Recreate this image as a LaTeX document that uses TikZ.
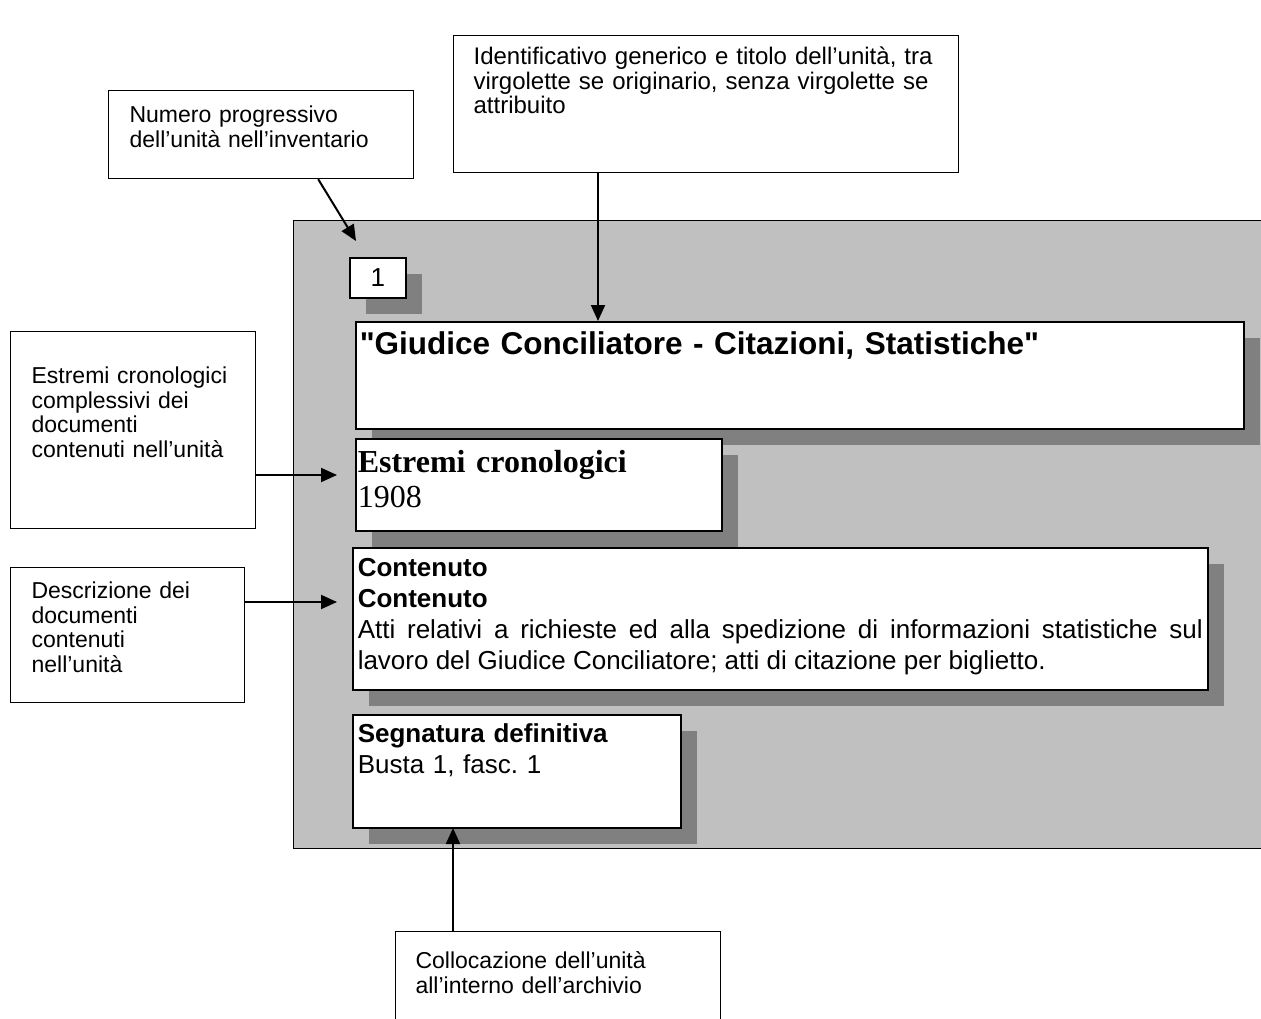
\documentclass[tikz,border=0pt]{standalone}
\usepackage{fontspec}
\setmainfont{Liberation Sans}
\newfontfamily\serifface{Liberation Serif}
\usetikzlibrary{arrows.meta, shadows}
\definecolor{panelgray}{RGB}{192,192,192}
\definecolor{shadegray}{RGB}{128,128,128}
\tikzset{
pointer/.style={line width=2pt, -{Triangle[length=16pt,width=14pt]}}
}

\begin{document}
\frenchspacing
\begin{tikzpicture}[x=1pt,y=-1pt]
		\tikzset{callout/.style = {draw, line width=1.2pt, fill=white, anchor=north west, align=left, inner ysep=0pt, font=\fontsize{23}{24.5}\selectfont}}
		\tikzset{field/.style = {draw, line width=1.5pt, fill=white, anchor=north west, inner ysep=0pt, drop shadow={shadow xshift=16pt, shadow yshift=-16pt, fill=shadegray, opacity=1}, font=\fontsize{26}{31}\selectfont}}

		\path[use as bounding box, clip] (0,0) rectangle (1261,1018);

		\node[draw, line width=1pt, fill=panelgray, anchor=north west, minimum width=990, minimum height=628, inner sep=0pt] (scheda) at (293,220) {};

		\node[field, minimum width=56, minimum height=40, inner sep=0pt] (numbox) at (349,257) {1};
		\node[field, minimum width=888, minimum height=107, text width=880, inner xsep=4, text height=33, text depth=74, align=left, font=\fontsize{31.5}{36}\selectfont\bfseries] (titolo) at (355,321) {\textquotedbl Giudice Conciliatore - Citazioni, Statistiche\textquotedbl};
		\node[field, minimum width=366, minimum height=92, text width=362, inner xsep=2, text height=34, text depth=58, align=left, font=\fontsize{32}{35}\selectfont\serifface] (date) at (355,438) {\textbf{Estremi cronologici}\\1908};
		\node[field, minimum width=855, minimum height=142, text width=845, inner xsep=5, text height=29, text depth=113, align=justify] (contenuto) at (352,547) {\textbf{Contenuto}\\\textbf{Contenuto}\\Atti relativi a richieste ed alla spedizione di informazioni statistiche sul\linebreak lavoro del Giudice Conciliatore; atti di citazione per biglietto.};
		\node[field, minimum width=328, minimum height=113, text width=318, inner xsep=5, text height=28, text depth=85, align=left] (segnatura) at (352,714) {\textbf{Segnatura definitiva}\\Busta 1, fasc. 1};

		\node[callout, minimum width=305, minimum height=88, text width=263, inner xsep=21, text height=32, text depth=56] (numero) at (108,90) {Numero progressivo\\dell'unità nell'inventario};
		\node[callout, minimum width=505, minimum height=137, text width=465, inner xsep=20, text height=29, text depth=108, font=\fontsize{24}{24.5}\selectfont] (ident) at (453,35) {Identificativo generico e titolo dell'unità, tra\\virgolette se originario, senza virgolette se\\attribuito};
		\node[callout, minimum width=245, minimum height=197, text width=203, inner xsep=21, text height=52, text depth=145] (estremi) at (10,331) {Estremi cronologici\\complessivi dei\\documenti\\contenuti nell'unità};
		\node[callout, minimum width=234, minimum height=135, text width=192, inner xsep=21, text height=31, text depth=104] (descr) at (10,567) {Descrizione dei\\documenti\\contenuti\\nell'unità};
		\node[callout, minimum width=325, minimum height=117, text width=285, inner xsep=20, text height=37, text depth=80] (colloc) at (395,931) {Collocazione dell'unità\\all'interno dell'archivio};

		\coordinate (numtip) at (356,241);
		\coordinate (titletip) at (598,321);
		\coordinate (datetip) at (337,475);
		\coordinate (conttip) at (337,602);
		\coordinate (segtip) at (453,828);

		\draw[pointer] (numero.-38.4) -- (numtip);
		\draw[pointer] (ident.south -| titletip) -- (titletip);
		\draw[pointer] (estremi.east |- datetip) -- (datetip);
		\draw[pointer] (descr.east |- conttip) -- (conttip);
		\draw[pointer] (colloc.north -| segtip) -- (segtip);
	\end{tikzpicture}
\end{document}
